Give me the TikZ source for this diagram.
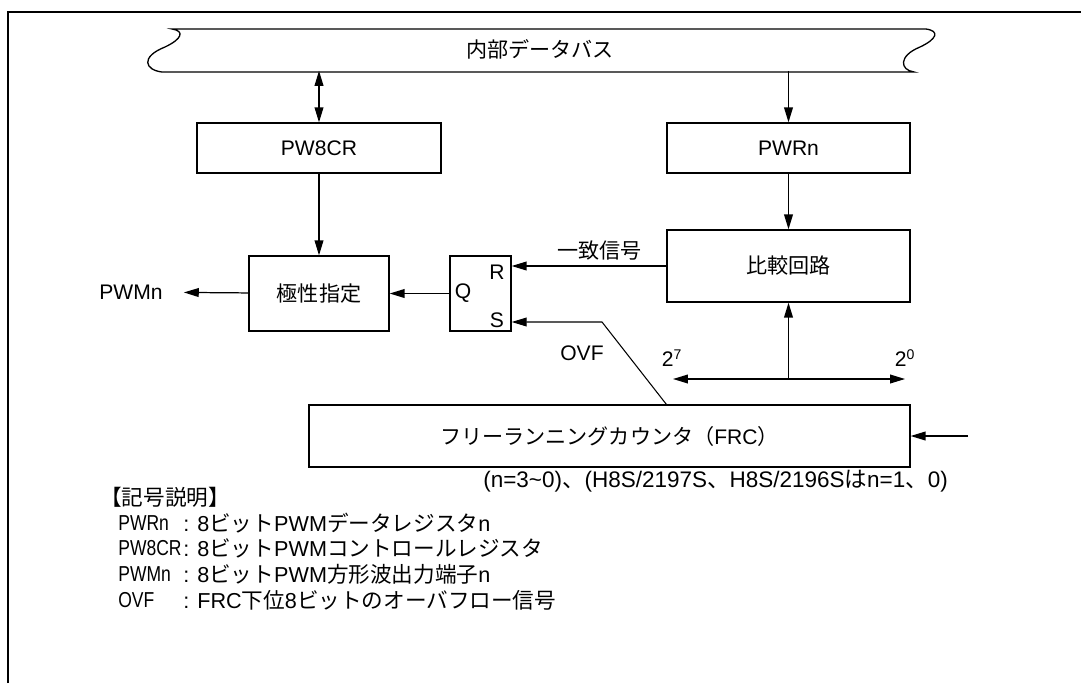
\documentclass[tikz,border=0pt]{standalone}
\usepackage{graphicx}
\usepackage{fontspec}
\setmainfont{Liberation Sans}
\newfontfamily\jpfont{Noto Sans CJK JP}
\newcommand{\jtext}[1]{{\jpfont #1}}
\newcommand{\cond}[1]{\scalebox{0.81}[1]{#1}}
\usetikzlibrary{arrows.meta}

\begin{document}
\begin{tikzpicture}[x=0.02cm,y=-0.02cm,>={Triangle[length=8.5pt,width=5pt]},
  blk/.style={draw,line width=0.75pt,inner sep=0pt},
  lnk/.style={line width=0.7pt},
  legend/.style={anchor=west,inner sep=0pt,font=\fontsize{12.3}{14}\selectfont},
  every node/.append style={font=\fontsize{12}{14}\selectfont}]
\useasboundingbox (0,0) rectangle (1081,683);
\draw[line width=1.3pt] (8,683) -- (8,12) -- (1081,12);
\draw[line width=0.75pt] (172,29) -- (926,29) .. controls (940,31) and (937,39) .. (920,47) .. controls (898,56) and (900,70) .. (914,72) -- (162,72) .. controls (145,70) and (140,57) .. (165,47) .. controls (182,39) and (185,31) .. (172,29) -- cycle;
\node[inner sep=0pt,minimum width=14cm,minimum height=0.86cm] (bus) at (540,49) {\jtext{内部データバス}};
\node[blk,minimum width=4.88cm,minimum height=1cm] (pw8cr) at (319,148) {PW8CR};
\node[blk,minimum width=4.86cm,minimum height=1cm] (pwr) at (788.5,148) {PWRn};
\node[blk,minimum width=2.8cm,minimum height=1.5cm] (pol) at (319,293.5) {\jtext{極性指定}};
\node[blk,minimum width=1.22cm,minimum height=1.5cm] (ff) at (480.5,293.5) {};
\node[blk,minimum width=4.86cm,minimum height=1.44cm] (cmp) at (788.5,266) {\jtext{比較回路}};
\node[blk,minimum width=12.02cm,minimum height=1.24cm] (frc) at (609.5,436) {\jtext{フリーランニングカウンタ（}FRC\jtext{）}};
\node (ffq) at (463,293) {Q};
\node (ffr) at (497,272) {R};
\node (ffs) at (497,320) {S};
\node (pwm) at (131,292) {PWMn};
\draw[lnk,<->] (bus.south -| pw8cr.north) -- (pw8cr.north);
\draw[lnk,->] (bus.south -| pwr.north) -- (pwr.north);
\draw[lnk,->] (pw8cr) -- (pol);
\draw[lnk,->] (pwr) -- (cmp);
\draw[lnk,->] (cmp.west) -- (cmp.west -| ff.east) node[pos=0.43,above,inner sep=3pt] (match) {\jtext{一致信号}};
\draw[lnk,->] (ff) -- (pol);
\draw[lnk,->,shorten >=0.3cm] (pol) -- (pwm);
\coordinate (ovfk) at (602,322);
\draw[line width=0.6pt,->] (frc.north -| cmp.west) -- (ovfk) -- (ovfk -| ff.east);
\node (ovf) at (582,353) {OVF};
\coordinate (bitl) at (673,379);
\coordinate (bitr) at (905,379);
\draw[lnk,<->] (bitl) -- (bitr);
\draw[lnk,->] (bitl -| cmp.south) -- (cmp.south);
\node (b7) at (672,358) {2\textsuperscript{7}};
\node (b0) at (905,358) {2\textsuperscript{0}};
\coordinate (clk) at (968,436);
\draw[lnk,->] (clk) -- (frc.east);
\node[legend,font=\fontsize{12.8}{14}\selectfont] (note) at (483,481) {(n=3\textasciitilde0)\jtext{、}(H8S/2197S\jtext{、}H8S/2196S\jtext{は}n=1\jtext{、}0)};
\node[legend] (keyhead) at (100,497) {\jtext{【記号説明】}};
\node[legend] (k1) at (118,523) {\cond{PWRn}};
\node[legend] (d1) at (183,523) {: 8\jtext{ビット}PWM\jtext{データレジスタ}n};
\node[legend] (k2) at (118,548) {\cond{PW8CR}};
\node[legend] (d2) at (183,548) {: 8\jtext{ビット}PWM\jtext{コントロールレジスタ}};
\node[legend] (k3) at (118,574) {\cond{PWMn}};
\node[legend] (d3) at (183,574) {: 8\jtext{ビット}PWM\jtext{方形波出力端子}n};
\node[legend] (k4) at (118,600) {\cond{OVF}};
\node[legend] (d4) at (183,600) {: FRC\jtext{下位}8\jtext{ビットのオーバフロー信号}};
\end{tikzpicture}
\end{document}
